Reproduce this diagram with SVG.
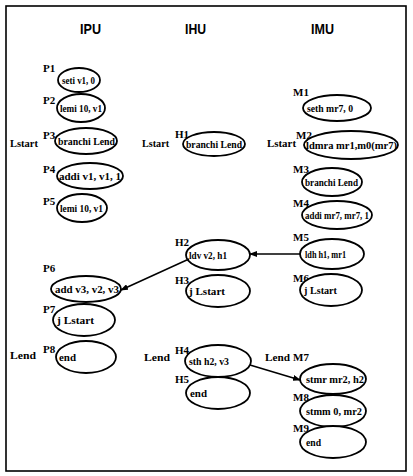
<svg xmlns="http://www.w3.org/2000/svg" width="413" height="476" viewBox="0 0 413 476">
<style>
.bg{fill:#fff}
.frame{fill:none;stroke:#000;stroke-width:1.6}
.hd{font-family:"Liberation Sans",Arial,sans-serif;font-weight:bold;font-size:15px;fill:#000}
.lb{font-family:"Liberation Serif","Times New Roman",serif;font-weight:bold;font-size:11px;fill:#000}
.tx{font-family:"Liberation Serif","Times New Roman",serif;font-weight:bold;font-size:10.5px;fill:#000}
ellipse{fill:#fff;stroke:#000;stroke-width:1.8}
.conn line{stroke:#000;stroke-width:1.5;marker-end:url(#ah)}
</style>
<defs>
<marker id="ah" markerWidth="8" markerHeight="6" refX="7" refY="3" orient="auto" markerUnits="userSpaceOnUse">
<path d="M0,0 L8,3 L0,6 Z" fill="#000"/>
</marker>
</defs>
<rect class="bg" x="0" y="0" width="413" height="476"/>
<rect class="frame" x="6" y="6" width="400" height="465"/>
<g id="headers">
<text class="hd" x="80" y="34" textLength="21" lengthAdjust="spacingAndGlyphs">IPU</text>
<text class="hd" x="185" y="34" textLength="21" lengthAdjust="spacingAndGlyphs">IHU</text>
<text class="hd" x="311" y="34" textLength="23" lengthAdjust="spacingAndGlyphs">IMU</text>
</g>
<g id="labels">
<text class="lb" x="10" y="147" textLength="28" lengthAdjust="spacingAndGlyphs">Lstart</text>
<text class="lb" x="10" y="359" textLength="26" lengthAdjust="spacingAndGlyphs">Lend</text>
<text class="lb" x="142" y="147" textLength="27" lengthAdjust="spacingAndGlyphs">Lstart</text>
<text class="lb" x="144" y="361" textLength="26" lengthAdjust="spacingAndGlyphs">Lend</text>
<text class="lb" x="267" y="147" textLength="29" lengthAdjust="spacingAndGlyphs">Lstart</text>
<text class="lb" x="265" y="361" textLength="25" lengthAdjust="spacingAndGlyphs">Lend</text>
</g>
<g id="P1"><text class="lb" x="43" y="72">P1</text><ellipse cx="79" cy="80" rx="21" ry="12"/><text class="tx" x="62" y="84" textLength="33" lengthAdjust="spacingAndGlyphs">seti v1, 0</text></g>
<g id="P2"><text class="lb" x="43" y="104">P2</text><ellipse cx="81" cy="108" rx="24" ry="14"/><text class="tx" x="60" y="112" textLength="42" lengthAdjust="spacingAndGlyphs">lemi 10, v1</text></g>
<g id="P3"><text class="lb" x="43" y="139">P3</text><ellipse cx="86" cy="141" rx="31" ry="13"/><text class="tx" x="58" y="145" textLength="57" lengthAdjust="spacingAndGlyphs">branchi Lend</text></g>
<g id="P4"><text class="lb" x="43" y="173">P4</text><ellipse cx="90" cy="176" rx="33" ry="13"/><text class="tx" x="59" y="180" textLength="62" lengthAdjust="spacingAndGlyphs">addi v1, v1, 1</text></g>
<g id="P5"><text class="lb" x="43" y="205">P5</text><ellipse cx="82" cy="208" rx="25" ry="14"/><text class="tx" x="60" y="212" textLength="43" lengthAdjust="spacingAndGlyphs">lemi 10, v1</text></g>
<g id="P6"><text class="lb" x="43" y="272">P6</text><ellipse cx="86" cy="289" rx="35" ry="13"/><text class="tx" x="55" y="293" textLength="64" lengthAdjust="spacingAndGlyphs">add v3, v2, v3</text></g>
<g id="P7"><text class="lb" x="43" y="313">P7</text><ellipse cx="84" cy="320" rx="31" ry="16"/><text class="tx" x="57" y="324" textLength="37" lengthAdjust="spacingAndGlyphs">j Lstart</text></g>
<g id="P8"><text class="lb" x="43" y="353">P8</text><ellipse cx="86" cy="357" rx="30" ry="16"/><text class="tx" x="59" y="361" textLength="17" lengthAdjust="spacingAndGlyphs">end</text></g>

<g id="H1"><text class="lb" x="175" y="138">H1</text><ellipse cx="214" cy="144" rx="31" ry="12"/><text class="tx" x="186" y="148" textLength="56" lengthAdjust="spacingAndGlyphs">branchi Lend</text></g>
<g id="H2"><text class="lb" x="175" y="246">H2</text><ellipse cx="218" cy="255" rx="32" ry="15"/><text class="tx" x="189" y="259" textLength="38" lengthAdjust="spacingAndGlyphs">ldv v2, h1</text></g>
<g id="H3"><text class="lb" x="175" y="284">H3</text><ellipse cx="218" cy="291" rx="32" ry="16"/><text class="tx" x="189" y="295" textLength="36" lengthAdjust="spacingAndGlyphs">j Lstart</text></g>
<g id="H4"><text class="lb" x="175" y="354">H4</text><ellipse cx="218" cy="361" rx="33" ry="16"/><text class="tx" x="189" y="365" textLength="40" lengthAdjust="spacingAndGlyphs">sth h2, v3</text></g>
<g id="H5"><text class="lb" x="175" y="383">H5</text><ellipse cx="218" cy="393" rx="32" ry="16"/><text class="tx" x="190" y="397" textLength="17" lengthAdjust="spacingAndGlyphs">end</text></g>

<g id="M1"><text class="lb" x="293" y="96">M1</text><ellipse cx="337" cy="108" rx="34" ry="13"/><text class="tx" x="307" y="112" textLength="46" lengthAdjust="spacingAndGlyphs">seth mr7, 0</text></g>
<g id="M2"><text class="lb" x="296" y="139">M2</text><ellipse cx="351" cy="145" rx="47" ry="14"/><text class="tx" x="306" y="149" textLength="91" lengthAdjust="spacingAndGlyphs">ldmra mr1,m0(mr7)</text></g>
<g id="M3"><text class="lb" x="293" y="173">M3</text><ellipse cx="332" cy="182" rx="30" ry="14"/><text class="tx" x="305" y="186" textLength="53" lengthAdjust="spacingAndGlyphs">branchi Lend</text></g>
<g id="M4"><text class="lb" x="293" y="207">M4</text><ellipse cx="337" cy="215" rx="35" ry="14"/><text class="tx" x="305" y="219" textLength="64" lengthAdjust="spacingAndGlyphs">addi mr7, mr7, 1</text></g>
<g id="M5"><text class="lb" x="293" y="241">M5</text><ellipse cx="332" cy="254" rx="32" ry="15"/><text class="tx" x="305" y="258" textLength="41" lengthAdjust="spacingAndGlyphs">ldh h1, mr1</text></g>
<g id="M6"><text class="lb" x="293" y="282">M6</text><ellipse cx="331" cy="290" rx="31" ry="16"/><text class="tx" x="304" y="294" textLength="33" lengthAdjust="spacingAndGlyphs">j Lstart</text></g>
<g id="M7"><text class="lb" x="293" y="361">M7</text><ellipse cx="333" cy="379" rx="33" ry="15"/><text class="tx" x="306" y="383" textLength="58" lengthAdjust="spacingAndGlyphs">stmr mr2, h2</text></g>
<g id="M8"><text class="lb" x="293" y="401">M8</text><ellipse cx="333" cy="411" rx="33" ry="16"/><text class="tx" x="306" y="415" textLength="56" lengthAdjust="spacingAndGlyphs">stmm 0, mr2</text></g>
<g id="M9"><text class="lb" x="293" y="432">M9</text><ellipse cx="333" cy="442" rx="33" ry="16"/><text class="tx" x="306" y="446" textLength="15" lengthAdjust="spacingAndGlyphs">end</text></g>

<g id="connectors" class="conn">
<line x1="189" y1="259" x2="121" y2="290"/>
<line x1="300" y1="254" x2="250" y2="254"/>
<line x1="250" y1="365" x2="300" y2="380"/>
</g>
</svg>
